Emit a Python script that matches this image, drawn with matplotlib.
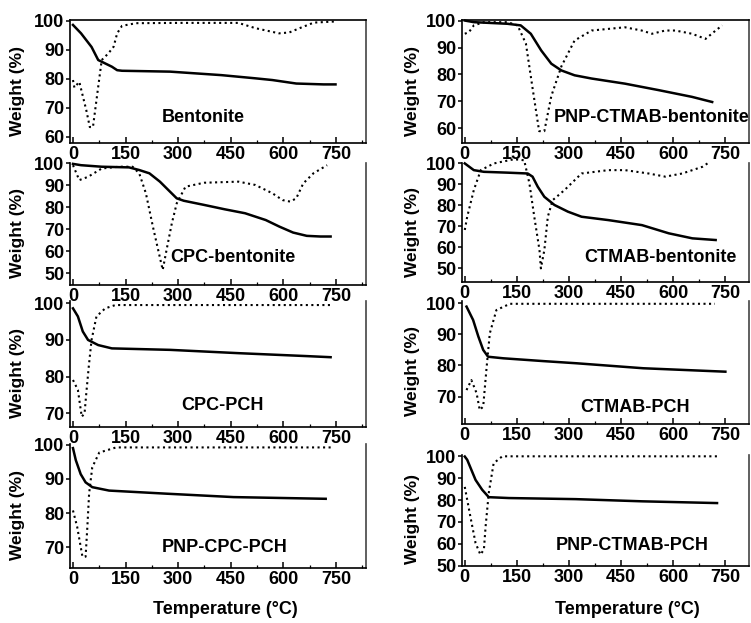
import matplotlib
matplotlib.use("Agg")
import matplotlib.pyplot as plt
from matplotlib.ticker import MultipleLocator

plt.rcParams['font.family'] = ['Liberation Sans', 'DejaVu Sans']
plt.rcParams['font.weight'] = 'bold'

# TG (solid) and DTG (dotted) curves, temperature in degC, weight in %
bent_tg_x = [0, 23, 53, 72, 111, 126, 140, 277, 423, 520, 569, 637, 715, 749]
bent_tg_y = [98.6, 95.7, 91.0, 86.5, 84.2, 83.0, 82.8, 82.5, 81.3, 80.2, 79.6, 78.4, 78.1, 78.1]
bent_dtg_x = [0, 4, 18, 38, 48, 57, 72, 82, 101, 116, 126, 140, 180, 300, 472, 520, 588, 617, 647, 687, 750]
bent_dtg_y = [79.6, 77.0, 79.0, 69.2, 63.4, 63.4, 77.3, 86.5, 88.8, 91.1, 95.7, 98.3, 99.2, 99.3, 99.3, 97.5, 95.7, 96.0, 97.5, 99.4, 99.8]

cpcb_tg_x = [0, 23, 82, 160, 189, 218, 248, 277, 296, 316, 374, 433, 491, 550, 589, 628, 667, 706, 735]
cpcb_tg_y = [99.8, 99.2, 98.5, 98.2, 97.0, 95.5, 91.7, 87.1, 84.1, 83.0, 81.1, 79.1, 77.3, 74.2, 71.2, 68.5, 67.0, 66.7, 66.7]
cpcb_dtg_x = [0, 18, 43, 82, 131, 170, 189, 208, 228, 243, 256, 267, 282, 296, 321, 374, 472, 520, 569, 598, 620, 637, 657, 686, 725]
cpcb_dtg_y = [99.2, 92.4, 93.9, 97.7, 98.5, 98.5, 95.5, 86.4, 71.2, 60.6, 51.5, 60.6, 72.7, 81.8, 89.4, 91.2, 91.7, 90.2, 86.4, 83.3, 82.6, 84.1, 90.9, 95.5, 99.2]

cpcp_tg_x = [0, 14, 28, 43, 72, 111, 277, 472, 667, 735]
cpcp_tg_y = [98.6, 96.4, 92.3, 90.0, 88.6, 87.7, 87.3, 86.4, 85.6, 85.3]
cpcp_dtg_x = [0, 14, 25, 33, 38, 45, 53, 67, 92, 121, 740]
cpcp_dtg_y = [79.1, 76.4, 69.1, 70.0, 75.5, 82.7, 90.0, 96.4, 98.6, 99.5, 99.5]

pcpc_tg_x = [0, 8, 22, 36, 55, 103, 266, 458, 721]
pcpc_tg_y = [99.0, 95.5, 91.4, 89.0, 87.6, 86.6, 85.7, 84.7, 84.2]
pcpc_dtg_x = [0, 12, 27, 36, 41, 46, 55, 75, 123, 740]
pcpc_dtg_y = [80.8, 76.0, 67.3, 67.3, 76.0, 85.7, 93.4, 97.7, 99.2, 99.2]

pctb_tg_x = [0, 26, 123, 161, 190, 220, 249, 278, 316, 365, 461, 558, 654, 712]
pctb_tg_y = [100.0, 99.4, 98.8, 98.2, 95.1, 88.9, 84.0, 81.5, 79.7, 78.5, 76.6, 74.2, 71.7, 69.8]
pctb_dtg_x = [0, 12, 26, 55, 123, 152, 176, 195, 214, 229, 249, 278, 316, 365, 461, 509, 539, 577, 606, 654, 693, 722, 741]
pctb_dtg_y = [95.1, 95.7, 98.2, 99.4, 99.4, 98.2, 91.4, 75.0, 59.0, 59.0, 72.0, 83.0, 92.6, 96.3, 97.5, 96.3, 95.1, 96.3, 96.3, 95.1, 93.2, 96.3, 98.2]

ctb_tg_x = [0, 26, 55, 123, 181, 195, 210, 229, 258, 297, 336, 413, 510, 587, 655, 722]
ctb_tg_y = [100.0, 96.8, 96.0, 95.6, 95.2, 93.7, 88.9, 84.1, 80.2, 77.0, 74.6, 73.0, 70.6, 66.7, 64.3, 63.5]
ctb_dtg_x = [0, 7, 26, 46, 84, 142, 171, 186, 200, 215, 219, 229, 239, 253, 287, 336, 413, 461, 529, 577, 626, 684, 703]
ctb_dtg_y = [68.3, 74.6, 87.3, 96.8, 100.0, 102.0, 101.5, 90.5, 74.6, 58.7, 50.0, 58.7, 74.6, 82.5, 87.3, 95.2, 96.8, 96.8, 95.2, 93.7, 95.2, 98.4, 100.5]

ctp_tg_x = [5, 24, 39, 53, 67, 111, 226, 322, 514, 750]
ctp_tg_y = [98.9, 94.6, 89.3, 85.0, 82.8, 82.3, 81.4, 80.7, 79.1, 78.0]
ctp_dtg_x = [5, 19, 34, 43, 53, 63, 72, 91, 130, 720]
ctp_dtg_y = [72.1, 75.3, 71.1, 65.7, 66.8, 79.6, 90.3, 97.8, 99.8, 99.8]

pctp_tg_x = [0, 7, 31, 50, 69, 127, 319, 511, 726]
pctp_tg_y = [99.9, 98.4, 89.2, 84.7, 81.3, 80.9, 80.4, 79.4, 78.6]
pctp_dtg_x = [0, 16, 31, 45, 55, 60, 69, 83, 108, 726]
pctp_dtg_y = [86.0, 72.5, 60.3, 55.0, 57.3, 68.0, 83.2, 96.8, 100.0, 100.0]

W, H = 751, 623
fig = plt.figure(figsize=(W / 100, H / 100), dpi=100)


def px_axes(left, top, right, bottom):
    return fig.add_axes([left / W, 1 - bottom / H, (right - left) / W, (bottom - top) / H])


# (curves, label, column, top, bottom, ylim, yticks, label xy, top spine)
panels = [
    (bent_tg_x, bent_tg_y, bent_dtg_x, bent_dtg_y, "Bentonite", 0, 20, 143, (57.9, 100.3), range(60, 101, 10), (203, 118), True),
    (pctb_tg_x, pctb_tg_y, pctb_dtg_x, pctb_dtg_y, "PNP-CTMAB-bentonite", 1, 20, 143, (54.6, 100.2), range(60, 101, 10), (652, 117), True),
    (cpcb_tg_x, cpcb_tg_y, cpcb_dtg_x, cpcb_dtg_y, "CPC-bentonite", 0, 163, 285, (44.6, 100.2), range(50, 101, 10), (233, 258), False),
    (ctb_tg_x, ctb_tg_y, ctb_dtg_x, ctb_dtg_y, "CTMAB-bentonite", 1, 163, 282, (43.5, 100.2), range(50, 101, 10), (660, 258), False),
    (cpcp_tg_x, cpcp_tg_y, cpcp_dtg_x, cpcp_dtg_y, "CPC-PCH", 0, 301, 427, (66.3, 100.6), range(70, 101, 10), (222, 405), False),
    (ctp_tg_x, ctp_tg_y, ctp_dtg_x, ctp_dtg_y, "CTMAB-PCH", 1, 301, 424, (61.2, 100.7), range(70, 101, 10), (635, 407), False),
    (pcpc_tg_x, pcpc_tg_y, pcpc_dtg_x, pcpc_dtg_y, "PNP-CPC-PCH", 0, 444, 568, (64, 100.2), range(70, 101, 10), (225, 547), False),
    (pctp_tg_x, pctp_tg_y, pctp_dtg_x, pctp_dtg_y, "PNP-CTMAB-PCH", 1, 455, 566, (49.8, 100.6), range(50, 101, 10), (632, 545), False),
]

cols = {0: (70, 366, (-8.5, 836), 18), 1: (462, 749, (-8, 818), 413)}

for tx, ty, dx, dy, name, col, top, bot, ylim, yt, lab, topspine in panels:
    left, right, xlim, ylab_x = cols[col]
    ax = px_axes(left, top, right, bot)
    ax.plot(tx, ty, color='black', lw=1.8, solid_joinstyle='round', clip_on=False)
    ax.plot(dx, dy, color='black', lw=1.5, linestyle=':', clip_on=False)
    ax.set_xlim(*xlim)
    ax.set_ylim(*ylim)
    ax.set_xticks(range(0, 751, 150))
    ax.xaxis.set_minor_locator(MultipleLocator(75))
    ax.set_yticks(list(yt))
    ax.tick_params(axis='x', which='major', direction='in', length=4, width=1.1, pad=2, labelsize=13)
    ax.tick_params(axis='x', which='minor', direction='in', length=2, width=0.9)
    ax.tick_params(axis='y', direction='out', length=3, width=1.1, pad=1, labelsize=13)
    for lbl in ax.get_xticklabels() + ax.get_yticklabels():
        lbl.set_fontweight('bold')
    for s in ['left', 'bottom', 'right']:
        ax.spines[s].set_linewidth(1.2)
    ax.spines['right'].set_color('#444444')
    ax.spines['top'].set_visible(topspine)
    ax.spines['top'].set_linewidth(1.2)
    ax.patch.set_alpha(0)
    fig.text(lab[0] / W, 1 - lab[1] / H, name, ha='center', va='center', fontsize=13, fontweight='bold')
    fig.text(ylab_x / W, 1 - ((top + bot) / 2 + 9) / H, "Weight (%)", rotation=90, ha='center', va='center',
             fontsize=12.5, fontweight='bold')

fig.text(225 / W, 1 - 610 / H, "Temperature (°C)", ha='center', va='center', fontsize=13, fontweight='bold')
fig.text(627 / W, 1 - 610 / H, "Temperature (°C)", ha='center', va='center', fontsize=13, fontweight='bold')

fig.savefig("out.png", dpi=100)
